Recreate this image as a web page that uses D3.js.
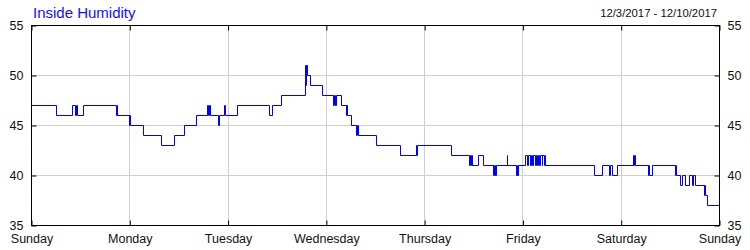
<!DOCTYPE html>
<html>
<head>
<meta charset="utf-8">
<script src="https://cdn.jsdelivr.net/npm/d3@7"></script>
<style>
  body { margin: 0; background: #fff; }
  svg text { font-family: "Liberation Sans", Arial, sans-serif; }
</style>
</head>
<body>
<div id="chart"></div>
<script>
// hours since Sunday 12/3/2017 00:00, value at that step
var hours = [0, 6.16, 9.91, 10.64, 10.96, 11.27, 12.66, 20.77, 20.94, 21.11, 23.86, 24.03, 24.18, 27.34, 31.73, 34.99, 37.25, 40.17,
    43.02, 43.17, 43.51, 43.75, 45.60, 46.02, 47.07, 47.31, 50.28, 58.02, 58.75, 61.04, 66.88, 67.13, 67.27, 67.44, 68.10, 70.97,
    73.85, 74.02, 74.19, 74.43, 75.65, 76.87, 77.01, 77.18, 78.04, 79.30, 79.50, 79.74, 84.24, 90.16, 93.91, 94.06, 94.23, 102.58,
    106.89, 107.13, 107.37, 107.62, 107.74, 109.15, 110.37, 112.73, 112.90, 113.05, 113.22, 113.34, 113.46, 116.21, 116.33,
    118.33, 118.57, 118.70, 118.89, 120.69, 121.01, 121.25, 121.74, 121.98, 122.35, 122.59, 122.96, 123.20, 123.44, 123.69,
    124.05, 124.30, 124.66, 124.90, 125.15, 125.39, 125.56, 137.57, 139.35, 141.22, 141.46, 141.83, 143.17, 146.89, 147.06,
    147.23, 147.48, 150.55, 150.72, 150.84, 151.69, 157.21, 157.36, 157.53, 158.58, 159.07, 159.65, 160.70, 161.36, 161.55,
    162.23, 164.28, 164.42, 164.59, 165.08, 168];
var humidity = [47, 46, 47, 46, 47, 46, 47, 46, 47, 46, 45, 46, 45, 44, 43, 44, 45, 46,
    47, 46, 47, 46, 45, 46, 47, 46, 47, 46, 47, 48, 51, 49, 51, 50, 49, 48,
    47, 48, 47, 48, 47, 46, 47, 46, 45, 44, 45, 44, 43, 42, 43, 42, 43, 42,
    41, 42, 41, 42, 41, 42, 41, 40, 41, 40, 41, 40, 41, 42, 41,
    40, 41, 40, 41, 42, 41, 42, 41, 42, 41, 42, 41, 42, 41, 42,
    41, 42, 41, 42, 41, 42, 41, 40, 41, 40, 41, 40, 41, 42, 41,
    42, 41, 40, 41, 40, 41, 40, 41, 40, 39, 40, 39, 40, 39, 40,
    39, 38, 39, 38, 37, 37];

var dayLabels = ["Sunday", "Monday", "Tuesday", "Wednesday", "Thursday", "Friday", "Saturday", "Sunday"];
var dayTicks = [0, 24, 48, 72, 96, 120, 144, 168];
var yTicks = [35, 40, 45, 50, 55];
var title = "Inside Humidity";
var dateRange = "12/3/2017 - 12/10/2017";

var margin = {top: 25, right: 30, bottom: 25, left: 31};
var width = 750 - margin.left - margin.right,
    height = 250 - margin.top - margin.bottom;

var svg = d3.select("#chart").append("svg")
    .attr("width", 750)
    .attr("height", 250);

svg.append("text")
    .attr("x", 33)
    .attr("y", 18)
    .style("font-size", "15px")
    .style("fill", "#1010ff")
    .text(title);

svg.append("text")
    .attr("x", 717)
    .attr("y", 17)
    .attr("text-anchor", "end")
    .style("font-size", "11.3px")
    .style("fill", "#111")
    .text(dateRange);

var g = svg.append("g")
    .attr("transform", "translate(" + (margin.left + 0.5) + "," + (margin.top + 0.5) + ")");

var x = d3.scaleLinear().domain([0, 168]).range([0, width - 1]);
var y = d3.scaleLinear().domain([35, 55]).range([height, 0]);

// grid
g.selectAll(".vgrid")
    .data(dayTicks.slice(1, -1))
    .enter().append("line")
    .attr("x1", d => Math.round(x(d))).attr("x2", d => Math.round(x(d)))
    .attr("y1", 0).attr("y2", height)
    .style("stroke", "#d0d0d0");

g.selectAll(".hgrid")
    .data(yTicks.slice(1, -1))
    .enter().append("line")
    .attr("x1", 0).attr("x2", width - 1)
    .attr("y1", d => y(d)).attr("y2", d => y(d))
    .style("stroke", "#d0d0d0");

// axes with inward ticks
var fmtDay = function(d, i) { return dayLabels[i]; };

var gl = g.append("g").call(d3.axisLeft(y).tickValues(yTicks).tickSize(-5).tickPadding(8));
var gr = g.append("g").attr("transform", "translate(" + (width - 1) + ",0)")
    .call(d3.axisRight(y).tickValues(yTicks).tickSize(-5).tickPadding(8));
var gb = g.append("g").attr("transform", "translate(0," + height + ")")
    .call(d3.axisBottom(x).tickValues(dayTicks).tickFormat(fmtDay).tickSize(-5).tickPadding(9));
var gt = g.append("g")
    .call(d3.axisTop(x).tickValues(dayTicks).tickFormat("").tickSize(-5));

[gl, gr, gb, gt].forEach(function(a) {
    a.select(".domain").remove();
    a.selectAll("line").style("stroke", "#000");
    a.selectAll("text").style("font-size", "12.5px").style("fill", "#111").style("font-family", "'Liberation Sans', Arial, sans-serif");
});
[gl, gr].forEach(function(a) {
    a.selectAll("text").attr("dy", "0.28em");
});

var data = hours.map(function(h, i) { return {h: h, v: humidity[i]}; });

var line = d3.line()
    .x(d => Math.round(x(d.h)))
    .y(d => y(d.v))
    .curve(d3.curveStepAfter);

g.append("path")
    .datum(data)
    .attr("d", line)
    .style("fill", "none")
    .style("stroke", "#0000ff")
    .style("stroke-width", 1);

// frame
g.append("rect")
    .attr("x", 0).attr("y", 0)
    .attr("width", width - 1).attr("height", height)
    .style("fill", "none")
    .style("stroke", "#000");
</script>
</body>
</html>
